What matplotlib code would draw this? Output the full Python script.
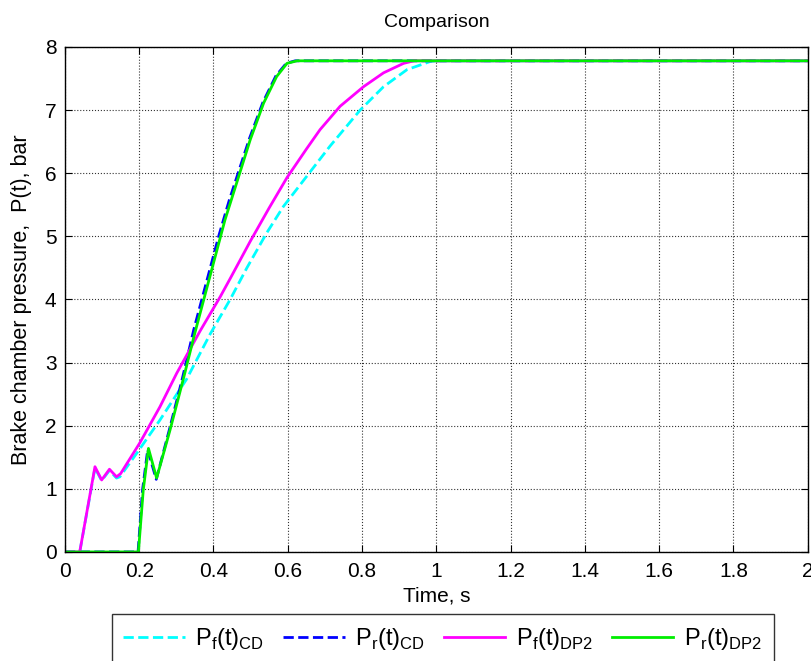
import matplotlib
matplotlib.use("Agg")
import matplotlib.pyplot as plt

plt.rcParams['font.family'] = ['Liberation Sans', 'DejaVu Sans']
plt.rcParams['mathtext.fontset'] = 'custom'
plt.rcParams['mathtext.rm'] = 'Liberation Sans'

# Front chamber, CD model (cyan dashed)
t_pf_cd = [0, 0.04, 0.081, 0.099, 0.12, 0.139, 0.148, 0.193, 0.256, 0.328, 0.391, 0.445,
           0.49, 0.543, 0.588, 0.651, 0.714, 0.795, 0.858, 0.921, 0.984, 1.0, 2.0]
pf_cd = [0, 0, 1.33, 1.13, 1.29, 1.17, 1.19, 1.56, 2.09, 2.74, 3.45, 4.0,
         4.5, 5.05, 5.47, 5.95, 6.43, 7.0, 7.37, 7.64, 7.77, 7.78, 7.78]

# Rear chamber, CD model (blue dashed)
t_pr_cd = [0, 0.197, 0.209, 0.223, 0.246, 0.281, 0.316, 0.347, 0.415, 0.443, 0.497,
           0.533, 0.568, 0.596, 0.62, 2.0]
pr_cd = [0, 0, 0.98, 1.62, 1.15, 1.93, 2.74, 3.52, 5.02, 5.58, 6.55,
         7.12, 7.54, 7.74, 7.78, 7.78]

# Front chamber, DP2 model (magenta)
t_pf_dp2 = [0, 0.04, 0.081, 0.099, 0.12, 0.139, 0.15, 0.202, 0.256, 0.301, 0.364, 0.418,
            0.445, 0.499, 0.55, 0.598, 0.65, 0.687, 0.741, 0.804, 0.858, 0.912, 0.94, 2.0]
pf_dp2 = [0, 0, 1.35, 1.14, 1.31, 1.19, 1.24, 1.73, 2.3, 2.83, 3.5, 4.04,
          4.33, 4.92, 5.45, 5.93, 6.38, 6.69, 7.06, 7.37, 7.59, 7.74, 7.78, 7.78]

# Rear chamber, DP2 model (green)
t_pr_dp2 = [0, 0.198, 0.211, 0.225, 0.247, 0.283, 0.318, 0.35, 0.431, 0.46, 0.499,
            0.535, 0.57, 0.598, 0.625, 2.0]
pr_dp2 = [0, 0, 0.98, 1.64, 1.17, 1.93, 2.72, 3.47, 5.26, 5.8, 6.53,
          7.11, 7.53, 7.74, 7.78, 7.78]

fig = plt.figure(figsize=(8.11, 6.61), dpi=100)
ax = fig.add_axes([0.080, 0.165, 0.916, 0.764])

ax.plot(t_pf_cd, pf_cd, '--', color='cyan', lw=2, label=r'P$_\mathregular{f}$(t)$_\mathregular{CD}$')
ax.plot(t_pr_cd, pr_cd, '--', color='blue', lw=2, label=r'P$_\mathregular{r}$(t)$_\mathregular{CD}$')
ax.plot(t_pf_dp2, pf_dp2, '-', color='magenta', lw=2, label=r'P$_\mathregular{f}$(t)$_\mathregular{DP2}$')
ax.plot(t_pr_dp2, pr_dp2, '-', color='#00ee00', lw=2, label=r'P$_\mathregular{r}$(t)$_\mathregular{DP2}$')

ax.set_xlim(0, 2)
ax.set_ylim(0, 8)
ax.set_xticks([0, 0.2, 0.4, 0.6, 0.8, 1, 1.2, 1.4, 1.6, 1.8, 2])
ax.set_xticklabels(['0', '0.2', '0.4', '0.6', '0.8', '1', '1.2', '1.4', '1.6', '1.8', '2'])
ax.set_yticks(range(9))
ax.tick_params(direction='in', top=True, right=True, labelsize=15, length=5)
ax.tick_params(axis='x', pad=7)
ax.tick_params(axis='y', pad=6)
ax.grid(True, color='#333333', linestyle=':', lw=0.8)
for s in ax.spines.values():
    s.set_linewidth(1)

ax.set_xlabel('Time, s', fontsize=15, labelpad=4)
ax.set_ylabel('Brake chamber pressure,  P(t), bar', fontsize=15.5, labelpad=9)
ax.set_title('Comparison', fontsize=14, pad=14)

leg = fig.legend(loc='upper center', bbox_to_anchor=(0.546, 0.071), ncol=4,
                 fontsize=17, frameon=True, fancybox=False, handlelength=2.6,
                 columnspacing=0.8, handletextpad=0.45, borderaxespad=0,
                 borderpad=0.5)
leg.get_frame().set_edgecolor('k')
leg.get_frame().set_linewidth(1)

fig.savefig('out.png', dpi=100)
